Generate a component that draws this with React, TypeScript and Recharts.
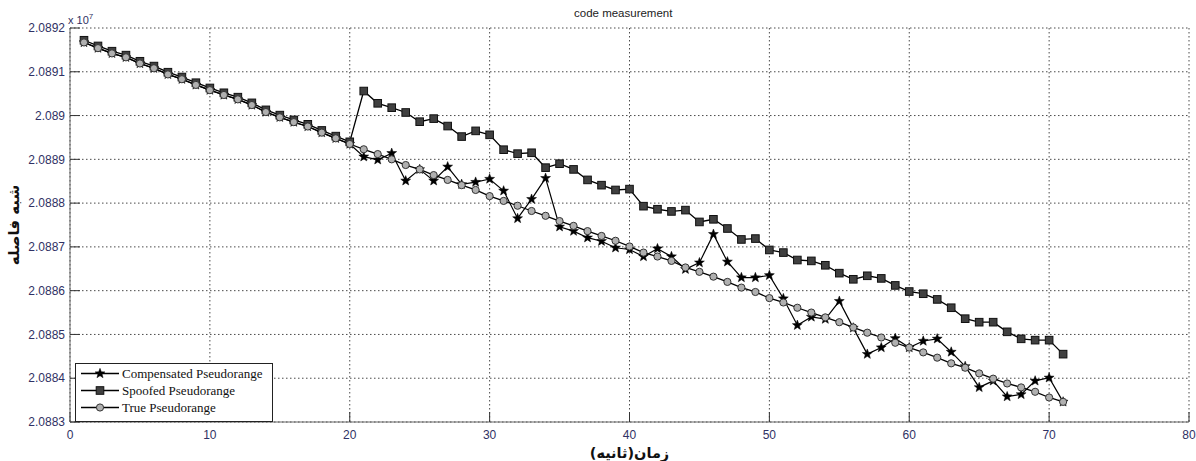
import { CartesianGrid, Legend, Line, LineChart, XAxis, YAxis } from "recharts";

// seconds since start
const seconds = [
  1, 2, 3, 4, 5, 6, 7, 8, 9, 10, 11, 12, 13, 14, 15, 16, 17, 18, 19, 20,
  21, 22, 23, 24, 25, 26, 27, 28, 29, 30, 31, 32, 33, 34, 35, 36, 37, 38, 39, 40,
  41, 42, 43, 44, 45, 46, 47, 48, 49, 50, 51, 52, 53, 54, 55, 56, 57, 58, 59, 60,
  61, 62, 63, 64, 65, 66, 67, 68, 69, 70, 71,
];

const truePr = [
  20891670, 20891540, 20891420, 20891330, 20891190, 20891080, 20890940, 20890830, 20890700, 20890580,
  20890470, 20890370, 20890240, 20890080, 20889960, 20889850, 20889750, 20889610, 20889480, 20889350,
  20889230, 20889120, 20889000, 20888870, 20888770, 20888640, 20888530, 20888410, 20888300, 20888160,
  20888050, 20887940, 20887820, 20887710, 20887590, 20887480, 20887360, 20887250, 20887140, 20887010,
  20886870, 20886780, 20886680, 20886530, 20886430, 20886320, 20886200, 20886070, 20885970, 20885830,
  20885730, 20885610, 20885500, 20885390, 20885280, 20885160, 20885040, 20884930, 20884810, 20884700,
  20884590, 20884470, 20884340, 20884240, 20884110, 20883990, 20883880, 20883790, 20883690, 20883560,
  20883460,
];

const spoofed = [
  20891720, 20891590, 20891470, 20891380, 20891240, 20891130, 20890990, 20890880, 20890750, 20890630,
  20890520, 20890420, 20890290, 20890130, 20890010, 20889900, 20889800, 20889660, 20889530, 20889400,
  20890560, 20890280, 20890180, 20890070, 20889860, 20889930, 20889760, 20889520, 20889650, 20889560,
  20889220, 20889130, 20889150, 20888810, 20888900, 20888770, 20888530, 20888410, 20888300, 20888320,
  20887930, 20887860, 20887810, 20887840, 20887570, 20887630, 20887420, 20887170, 20887190, 20886930,
  20886870, 20886700, 20886680, 20886580, 20886400, 20886260, 20886340, 20886280, 20886120, 20885980,
  20885930, 20885800, 20885610, 20885360, 20885280, 20885280, 20885060, 20884900, 20884870, 20884870,
  20884550,
];

const compensated = [
  20891670, 20891540, 20891420, 20891330, 20891190, 20891080, 20890940, 20890830, 20890700, 20890580,
  20890470, 20890370, 20890240, 20890080, 20889960, 20889850, 20889750, 20889610, 20889480, 20889350,
  20889060, 20888990, 20889140, 20888510, 20888770, 20888510, 20888830, 20888430, 20888480, 20888550,
  20888280, 20887650, 20888090, 20888570, 20887460, 20887360, 20887210, 20887130, 20886980, 20886940,
  20886780, 20886960, 20886780, 20886490, 20886640, 20887290, 20886660, 20886300, 20886300, 20886350,
  20885820, 20885210, 20885400, 20885350, 20885760, 20885150, 20884550, 20884700, 20884910, 20884700,
  20884850, 20884900, 20884600, 20884270, 20883790, 20883940, 20883580, 20883630, 20883940, 20884010,
  20883460,
];

const xTicks = [0, 10, 20, 30, 40, 50, 60, 70, 80];
const yTicks = [
  20883000, 20884000, 20885000, 20886000, 20887000, 20888000, 20889000, 20890000, 20891000, 20892000,
];

const data = seconds.map((t, i) => ({
  t,
  compensated: compensated[i],
  spoofed: spoofed[i],
  truePr: truePr[i],
}));

const tickFont = { fontSize: 12, fill: "#2f3164", fontFamily: "Liberation Sans, Arial, sans-serif" };

function fmtY(v: number): string {
  return String(parseFloat((v / 1e7).toFixed(4)));
}

function starPoints(cx: number, cy: number, r: number): string {
  const pts: string[] = [];
  for (let k = 0; k < 10; k++) {
    const rad = k % 2 === 0 ? r : r * 0.42;
    const a = -Math.PI / 2 + (k * Math.PI) / 5;
    pts.push(`${cx + rad * Math.cos(a)},${cy + rad * Math.sin(a)}`);
  }
  return pts.join(" ");
}

function Marker({ kind, cx, cy }: { kind: string; cx: number; cy: number }) {
  if (kind === "compensated") {
    return <polygon points={starPoints(cx, cy, 5.2)} fill="#000" stroke="#000" strokeWidth={0.5} />;
  }
  if (kind === "spoofed") {
    return (
      <rect x={cx - 3.8} y={cy - 3.8} width={7.6} height={7.6} fill="#404040" stroke="#111" strokeWidth={1} />
    );
  }
  return <circle cx={cx} cy={cy} r={3.6} fill="#b0b0b0" stroke="#333" strokeWidth={1} />;
}

const dotFor = (kind: string) => (p: any) => {
  if (p.cx == null || p.cy == null) return <g key={`${kind}-${p.index}`} />;
  return (
    <g key={`${kind}-${p.index}`}>
      <Marker kind={kind} cx={p.cx} cy={p.cy} />
    </g>
  );
};

function LegendBox({ payload }: any) {
  const rows = (payload || []) as any[];
  return (
    <div
      style={{
        border: "1px solid #222",
        background: "#fff",
        width: 196,
        height: 56,
        paddingTop: 1,
        boxSizing: "content-box",
        fontFamily: "Liberation Serif, 'Times New Roman', serif",
        fontSize: 13,
        color: "#111",
      }}
    >
      {rows.map((r) => (
        <div key={r.dataKey} style={{ display: "flex", alignItems: "center", height: 17 }}>
          <svg width={46} height={17} style={{ flex: "none" }}>
            <line x1={5} y1={8.5} x2={43} y2={8.5} stroke="#000" strokeWidth={1.4} />
            <Marker kind={r.dataKey} cx={24} cy={8.5} />
          </svg>
          <span style={{ lineHeight: "17px", whiteSpace: "nowrap" }}>{r.value}</span>
        </div>
      ))}
    </div>
  );
}

export default function App() {
  return (
    <div style={{ position: "absolute", left: 0, top: 0, width: 1196, height: 461, background: "#fff" }}>
      <div
        style={{
          position: "absolute",
          left: 574,
          top: 7,
          width: 94,
          textAlign: "center",
          fontFamily: "Liberation Sans, Arial, sans-serif",
          fontSize: 11.5,
          color: "#222",
          whiteSpace: "nowrap",
        }}
      >
        code measurement
      </div>
      <div
        style={{
          position: "absolute",
          left: 68,
          top: 12,
          fontFamily: "Liberation Sans, Arial, sans-serif",
          fontSize: 11,
          color: "#2f3164",
          whiteSpace: "nowrap",
        }}
      >
        x 10<sup style={{ fontSize: 8, verticalAlign: "5px" }}>7</sup>
      </div>
      <LineChart width={1196} height={461} data={data} margin={{ top: 28, right: 7, bottom: 0, left: 0 }}>
        <CartesianGrid stroke="#4a4a4a" strokeDasharray="1.5 2.5" strokeWidth={1} />
        <XAxis
          dataKey="t"
          type="number"
          domain={[0, 80]}
          ticks={xTicks}
          height={39}
          tick={tickFont}
          tickSize={-10}
          tickMargin={18}
          stroke="#666"
          axisLine={{ stroke: "#666" }}
          tickLine={{ stroke: "#333" }}
          label={{
            value: "زمان(ثانیه)",
            position: "insideBottom",
            offset: 3,
            style: { fontSize: 14.5, fontWeight: "bold", fill: "#111", fontFamily: "DejaVu Sans, sans-serif" },
          }}
        />
        <YAxis
          type="number"
          domain={[20883000, 20892000]}
          ticks={yTicks}
          width={70}
          tick={tickFont}
          tickFormatter={fmtY}
          tickSize={-10}
          tickMargin={15}
          stroke="#666"
          axisLine={{ stroke: "#666" }}
          tickLine={{ stroke: "#333" }}
          label={{
            value: "شبه فاصله",
            angle: -90,
            position: "center",
            dx: -21,
            style: { fontSize: 15, fontWeight: "bold", fill: "#111", fontFamily: "DejaVu Sans, sans-serif" },
          }}
        />
        <Legend
          layout="horizontal"
          align="center"
          verticalAlign="middle"
          wrapperStyle={{ left: 75, top: 363, width: 198 }}
          content={<LegendBox />}
        />
        <Line
          name="Compensated Pseudorange"
          dataKey="compensated"
          stroke="#000"
          strokeWidth={1.2}
          dot={dotFor("compensated")}
          activeDot={false}
          isAnimationActive={false}
        />
        <Line
          name="Spoofed Pseudorange"
          dataKey="spoofed"
          stroke="#000"
          strokeWidth={1.3}
          dot={dotFor("spoofed")}
          activeDot={false}
          isAnimationActive={false}
        />
        <Line
          name="True Pseudorange"
          dataKey="truePr"
          stroke="#000"
          strokeWidth={1.3}
          dot={dotFor("truePr")}
          activeDot={false}
          isAnimationActive={false}
        />
      </LineChart>
    </div>
  );
}
